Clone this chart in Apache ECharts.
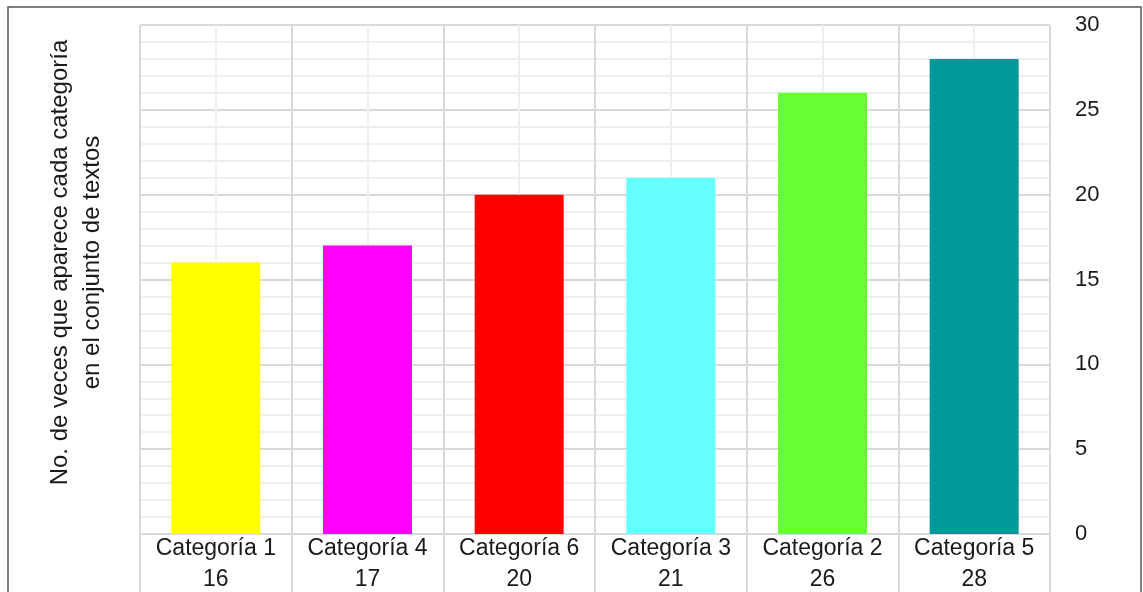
<!DOCTYPE html>
<html>
<head>
<meta charset="utf-8">
<script src="https://cdn.jsdelivr.net/npm/echarts@6/dist/echarts.min.js"></script>
<style>
  html, body { margin: 0; padding: 0; background: #fff; }
  #chart { width: 1143px; height: 592px; }
</style>
</head>
<body>
<div id="chart"></div>
<script>
var categories = ['Categoría 1', 'Categoría 4', 'Categoría 6', 'Categoría 3', 'Categoría 2', 'Categoría 5'];
var counts = [16, 17, 20, 21, 26, 28];
var barColors = ['#ffff00', '#ff00ff', '#ff0000', '#66ffff', '#66ff33', '#009999'];
var yTitle = ['No. de veces que aparece cada categoría', 'en el conjunto de textos'];

var font = 'Liberation Sans, Arial, sans-serif';
var gridMajor = '#d9d9d9', gridMinor = '#efefef';

var chart = echarts.init(document.getElementById('chart'));
chart.setOption({
    animation: false,
    textStyle: {fontFamily: font},
    grid: {left: 140, right: 93, top: 25, bottom: 58},
    graphic: [{
        type: 'rect',
        shape: {x: 8, y: 7, width: 1133, height: 620},
        style: {fill: 'none', stroke: '#555', lineWidth: 1.5},
        silent: true
    }],
    xAxis: [{
        type: 'category',
        data: categories,
        axisLine: {show: true, lineStyle: {color: gridMajor, width: 2}},
        axisTick: {show: true, interval: 0, length: 60, lineStyle: {color: gridMajor, width: 2}},
        axisLabel: {color: '#1a1a1a', fontSize: 23, margin: 3, interval: 0},
        splitLine: {show: false}
    }, {
        // value row of the table under the plot
        type: 'category',
        data: counts.map(String),
        position: 'bottom',
        offset: 31,
        axisLine: {show: true, lineStyle: {color: gridMajor, width: 2}},
        axisTick: {show: false},
        axisLabel: {color: '#1a1a1a', fontSize: 23, margin: 3, interval: 0},
        splitLine: {show: false}
    }, {
        // vertical gridlines: boundaries + centres
        type: 'value',
        min: 0, max: 6, interval: 1,
        position: 'top',
        axisLine: {show: false},
        axisTick: {show: false},
        axisLabel: {show: false},
        splitLine: {show: true, lineStyle: {color: gridMajor, width: 2}},
        minorTick: {show: false, splitNumber: 2},
        minorSplitLine: {show: true, lineStyle: {color: gridMinor, width: 2}}
    }],
    yAxis: [{
        type: 'value',
        position: 'right',
        min: 0, max: 30, interval: 5,
        axisLine: {show: false},
        axisTick: {show: false},
        axisLabel: {color: '#1a1a1a', fontSize: 22, margin: 25},
        splitLine: {show: true, lineStyle: {color: gridMajor, width: 2}},
        minorTick: {show: false, splitNumber: 5},
        minorSplitLine: {show: true, lineStyle: {color: gridMinor, width: 2}}
    }, {
        type: 'value',
        position: 'left',
        min: 0, max: 30,
        axisLine: {show: false},
        axisTick: {show: false},
        axisLabel: {show: false},
        splitLine: {show: false},
        name: yTitle.join('\n'),
        nameLocation: 'middle',
        nameRotate: 90,
        nameGap: 32,
        nameTextStyle: {color: '#1a1a1a', fontSize: 24, lineHeight: 32, align: 'center', padding: [0, 0, 0, 34]}
    }],
    series: [{
        type: 'bar',
        xAxisIndex: 0,
        yAxisIndex: 0,
        barWidth: 89,
        data: counts.map(function (v, i) {
            return {value: v, itemStyle: {color: barColors[i]}};
        })
    }]
});
</script>
</body>
</html>
